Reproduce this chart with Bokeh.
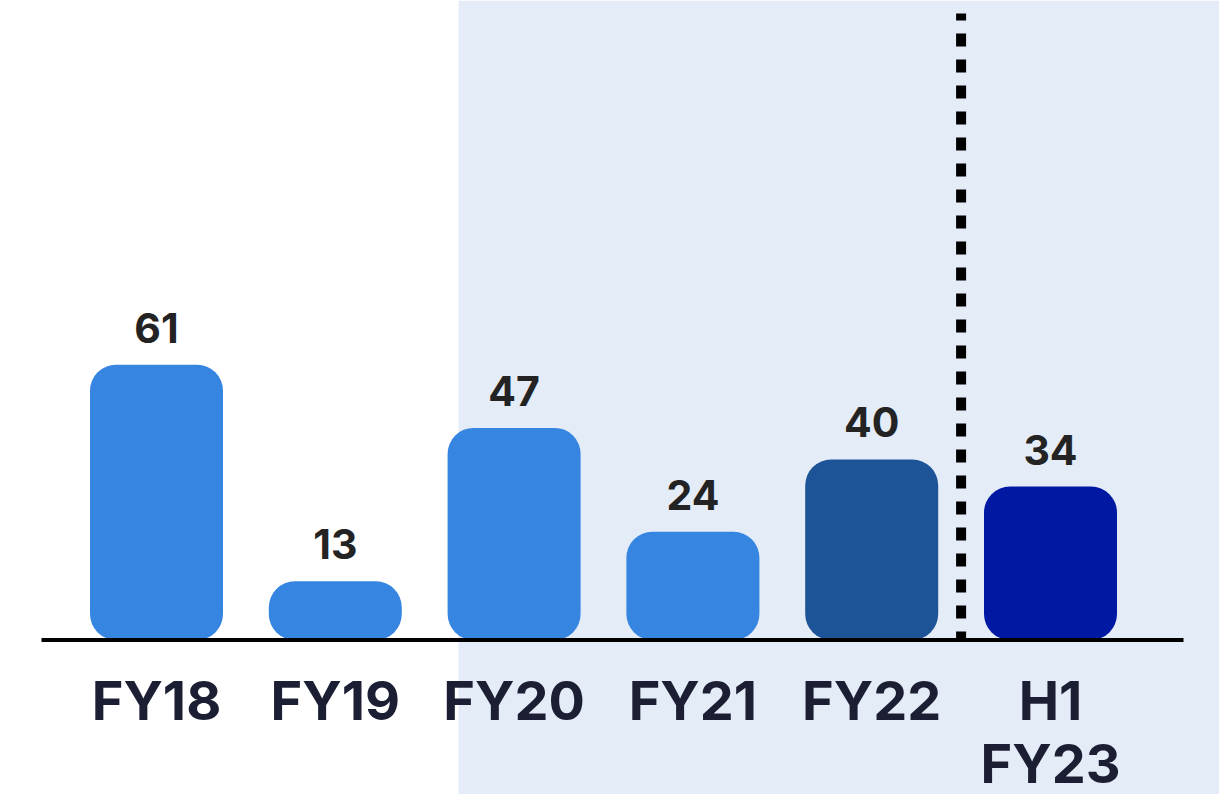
from bokeh.plotting import figure
from bokeh.models import Range1d, BoxAnnotation, ColumnDataSource
from bokeh.core.properties import value
from bokeh.embed import file_html
from bokeh.resources import INLINE

# ---- data ----
categories = ["FY18", "FY19", "FY20", "FY21", "FY22", "H1 FY23"]
label_line1 = ["FY18", "FY19", "FY20", "FY21", "FY22", "H1"]
label_line2 = ["", "", "", "", "", "FY23"]
values = [61, 13, 47, 24, 40, 34]
bar_colors = ["#3585e1", "#3585e1", "#3585e1", "#3585e1", "#1c5497", "#0019a2"]

# ---- layout constants ----
W, H = 1219, 794
step = 178.8          # px per category
x0px = 156            # px of first category center in frame
ppu = 4.513           # px per value unit
base_px = 639.5       # px of baseline from frame top

xs = list(range(len(categories)))

src = ColumnDataSource(dict(
    x=xs, top=values, color=bar_colors,
    vlab=[str(v) for v in values],
    l1=label_line1, l2=label_line2,
    zero=[0] * len(xs),
))

p = figure(width=W, height=H,
           x_range=Range1d(-x0px / step, (W - x0px) / step),
           y_range=Range1d(-(H - base_px) / ppu, base_px / ppu),
           output_backend="svg", toolbar_location=None,
           x_axis_location=None, y_axis_location=None, min_border=0)
p.grid.visible = False
p.outline_line_color = None
p.background_fill_color = "white"
p.border_fill_color = "white"

# shaded band
band = BoxAnnotation(left=(458 - x0px) / step, fill_color="#e4ecf7", fill_alpha=1.0,
                     line_color=None, level="underlay")
p.add_layout(band)

# bars
p.vbar(x="x", top="top", bottom=0, width=133 / step, color="color",
       line_color=None, border_radius=26, source=src)

# baseline
p.segment(x0=[(41 - x0px) / step], y0=[0], x1=[(1183 - x0px) / step], y1=[0],
          line_color="black", line_width=4)

# dotted separator
p.segment(x0=[4.5], y0=[(base_px - 13) / ppu], x1=[4.5], y1=[0],
          line_color="black", line_width=10, line_dash="13 13",
          line_dash_offset=6, line_cap="butt")

# value labels
p.text(x="x", y="top", text="vlab", source=src, text_align="center",
       text_baseline="alphabetic", y_offset=-37,
       text_font=value("Inter"), text_font_style="bold",
       text_font_size="41px", text_color="#232323")

# category labels
p.text(x="x", y="zero", text="l1", source=src, text_align="center",
       text_baseline="alphabetic", y_offset=60,
       text_font=value("Inter"), text_font_style="bold",
       text_font_size="54px", text_color="#1c1f33")
p.text(x="x", y="zero", text="l2", source=src, text_align="center",
       text_baseline="alphabetic", y_offset=123,
       text_font=value("Inter"), text_font_style="bold",
       text_font_size="54px", text_color="#1c1f33")

open("out.html", "w").write(file_html(p, INLINE))
